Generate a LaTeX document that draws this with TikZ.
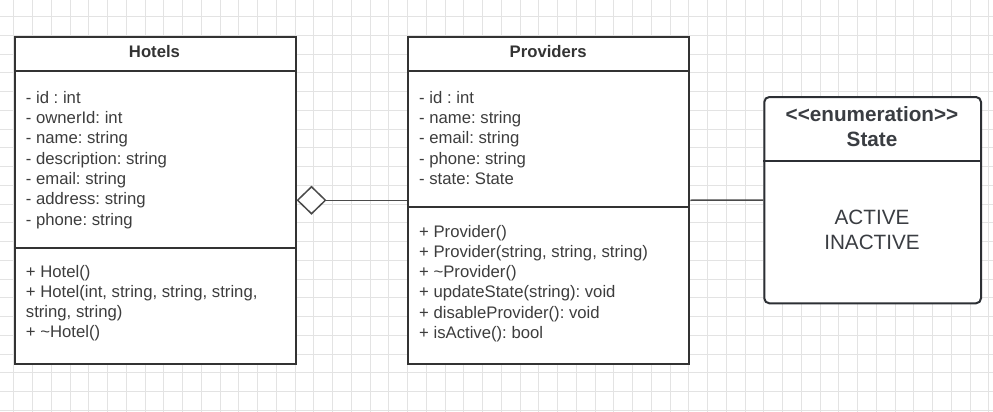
\documentclass[tikz,border=0pt]{standalone}
\usepackage{fontspec}
\setmainfont{Liberation Sans}
\frenchspacing
\usetikzlibrary{arrows.meta}
\definecolor{gridline}{HTML}{E3E3E3}
\definecolor{boxline}{HTML}{333333}
\definecolor{txt}{HTML}{3D3D3D}
\definecolor{enumline}{HTML}{2C2F34}
\definecolor{enumtxt}{HTML}{3A3D42}
\definecolor{connline}{HTML}{4A4A4A}
\begin{document}
\begin{tikzpicture}[x=1pt,y=-1pt,
  classbox/.style={draw=boxline, line width=2pt, fill=white, inner sep=0pt, anchor=north west},
  enumbox/.style={draw=enumline, line width=2pt, fill=white, inner sep=0pt, anchor=north west, rounded corners=5pt},
  divider/.style={draw=boxline, line width=2pt},
  members/.style={inner sep=0pt, anchor=base west, align=left, text=txt, font=\frenchspacing\fontsize{16.7}{20.3}\selectfont},
  title/.style={inner sep=0pt, anchor=base, text=boxline, font=\bfseries\fontsize{16.7}{20.3}\selectfont},
  enumtitle/.style={inner sep=0pt, anchor=base, align=center, text=enumtxt, font=\bfseries\fontsize{20.7}{24.3}\selectfont},
  enumvals/.style={inner sep=0pt, anchor=base, align=center, text=enumtxt, font=\fontsize{20.7}{25}\selectfont},
  conn/.style={draw=connline, line width=1.5pt}]
\useasboundingbox (0,0) rectangle (993,412);
\fill[white] (0,0) rectangle (993,412);
% grid
\foreach \k in {0,...,52} {\draw[gridline, line width=1pt] ({13.9+18.75*\k},0) -- ({13.9+18.75*\k},412);}
\foreach \j in {0,...,21} {\draw[gridline, line width=1pt] (0,{16.7+18.75*\j}) -- (993,{16.7+18.75*\j});}

% Hotels
\node[classbox, minimum width=280.5pt, minimum height=326.5pt] (hotels) at (14,36) {};
\draw[divider] (hotels.west |- 0,71.3) -- (hotels.east |- 0,71.3);
\draw[divider] (hotels.west |- 0,247.7) -- (hotels.east |- 0,247.7);
\node[title] (hotelsT) at (154.5,58) {Hotels};
\node[members] (hotelsA) at (25.7,225.1) {- id : int\\- ownerId: int\\- name: string\\- description: string\\- email: string\\- address: string\\- phone: string};
\node[members] (hotelsM) at (25.7,337.9) {+ Hotel()\\+ Hotel(int, string, string, string,\\string, string)\\+ \textasciitilde Hotel()};

% Providers
\node[classbox, minimum width=281pt, minimum height=326.5pt] (providers) at (407.3,36) {};
\draw[divider] (providers.west |- 0,71.3) -- (providers.east |- 0,71.3);
\draw[divider] (providers.west |- 0,206.7) -- (providers.east |- 0,206.7);
\node[title] (providersT) at (548.2,58) {Providers};
\node[members] (providersA) at (419,184.5) {- id : int\\- name: string\\- email: string\\- phone: string\\- state: State};
\node[members] (providersM) at (419,338.5) {+ Provider()\\+ Provider(string, string, string)\\+ \textasciitilde Provider()\\+ updateState(string): void\\+ disableProvider(): void\\+ isActive(): bool};

% State enumeration
\node[enumbox, minimum width=216.7pt, minimum height=206.3pt] (state) at (763.3,96) {};
\draw[draw=enumline, line width=2pt] (state.west |- 0,161) -- (state.east |- 0,161);
\node[enumtitle] (stateT) at (872,146) {<\kern0pt<enumeration>\kern0pt>\\State};
\node[enumvals] (stateV) at (872,249.3) {ACTIVE\\INACTIVE};

% connectors
\draw[conn, {Diamond[open, fill=white, length=30pt, width=29pt]}-] (hotels.east) -- (providers.west);
\draw[conn] (providers.east) -- (state.west);
\end{tikzpicture}
\end{document}
